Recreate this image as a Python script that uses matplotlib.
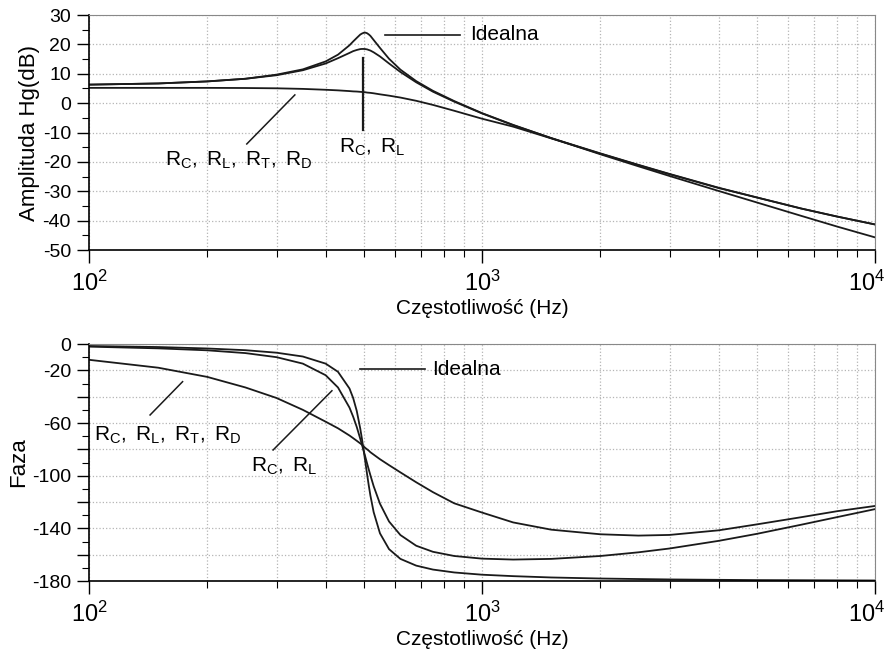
import matplotlib
matplotlib.use("Agg")
import matplotlib.pyplot as plt
import matplotlib.transforms as mtransforms
from matplotlib.ticker import FixedLocator, MultipleLocator, LogLocator, NullFormatter

plt.rcParams['font.family'] = ['Liberation Sans', 'DejaVu Sans']
plt.rcParams['mathtext.fontset'] = 'custom'
plt.rcParams['mathtext.rm'] = 'Liberation Sans'
plt.rcParams['mathtext.it'] = 'Liberation Sans'
plt.rcParams['axes.unicode_minus'] = False

# frequency points (Hz)
freq = [100, 150, 200, 250, 300, 350, 400, 430, 460, 470, 480, 490, 495, 500,
        505, 510, 515, 520, 530, 550, 580, 620, 680, 750, 850, 1000, 1200,
        1500, 2000, 2500, 3000, 4000, 5000, 6500, 8000, 10000]

# amplitude (dB)
amp_ideal = [6.3, 6.7, 7.4, 8.3, 9.7, 11.5, 14.2, 16.5, 19.7, 21.0, 22.2,
             23.35, 23.7, 23.95, 24.0, 23.8, 23.4, 22.9, 21.5, 18.8, 15.1,
             11.4, 7.5, 4.2, 0.7, -3.4, -7.4, -11.9, -17.4, -21.5, -24.8,
             -29.9, -33.8, -38.4, -42.0, -45.7]
amp_rcrl = [6.3, 6.7, 7.4, 8.3, 9.5, 11.2, 13.5, 15.3, 17.1, 17.7, 18.1,
            18.4, 18.45, 18.45, 18.4, 18.3, 18.1, 17.9, 17.3, 15.9, 13.5,
            10.6, 7.1, 3.9, 0.5, -3.5, -7.5, -11.9, -17.1, -21.0, -24.1,
            -28.8, -32.1, -35.9, -38.6, -41.3]
amp_full = [5.2, 5.2, 5.2, 5.15, 5.05, 4.85, 4.55, 4.35, 4.1, 4.0, 3.95,
            3.85, 3.8, 3.75, 3.7, 3.6, 3.55, 3.5, 3.35, 3.0, 2.55, 1.9, 0.8,
            -0.6, -2.6, -5.3, -8.0, -12.0, -17.2, -21.1, -24.2, -28.9, -32.1,
            -35.9, -38.6, -41.3]

# phase (deg)
ph_ideal = [-1.5, -2.3, -3.4, -4.7, -6.6, -9.5, -14.9, -21.1, -33.8, -41.0,
            -50.8, -64.3, -72.3, -81.0, -90.0, -99.0, -107.4, -115.1, -127.7,
            -143.8, -155.8, -163.2, -168.3, -171.3, -173.5, -175.2, -176.3,
            -177.3, -178.1, -178.5, -178.8, -179.1, -179.3, -179.4, -179.5,
            -179.6]
ph_rcrl = [-2.0, -3.3, -4.8, -6.9, -10.0, -14.9, -23.7, -33.0, -48.3, -55.2,
           -63.0, -72.0, -76.6, -81.3, -86.0, -90.7, -95.3, -99.7, -108.0,
           -121.3, -134.8, -145.1, -153.2, -157.8, -161.0, -163.0, -163.7,
           -163.2, -161.0, -158.2, -155.3, -149.5, -144.2, -137.2, -131.5,
           -125.4]
ph_full = [-12.0, -18.0, -25.0, -33.0, -41.0, -50.0, -59.0, -64.0, -69.5,
           -71.5, -73.5, -75.5, -76.5, -77.8, -79.0, -80.0, -81.0, -82.2,
           -84.0, -87.5, -92.0, -97.5, -105.0, -112.5, -121.0, -128.0,
           -135.5, -141.0, -144.5, -145.5, -145.0, -141.5, -137.0, -131.5,
           -127.0, -123.0]

x_ticks = [100, 1000, 10000]
x_labels = [r'$\mathregular{10^2}$', r'$\mathregular{10^3}$', r'$\mathregular{10^4}$']
amp_ticks = [30, 20, 10, 0, -10, -20, -30, -40, -50]
amp_labels = ['30', '20', '10', '0', '-10', '-20', '-30', '-40', '-50']
ph_ticks = [0, -20, -40, -60, -80, -100, -120, -140, -160, -180]
ph_labels = ['0', '-20', '', '-60', '', '-100', '', '-140', '', '-180']

lc = '#1a1a1a'
lw = 1.3
fs_lab = 15
fs_ann = 15

fig = plt.figure(figsize=(8.85, 6.56), dpi=100)
ax1 = fig.add_axes([0.1006, 0.6189, 0.8881, 0.3582])
ax2 = fig.add_axes([0.1006, 0.1143, 0.8881, 0.3613])


def style(ax):
    ax.set_xscale('log')
    ax.set_xlim(100, 10000)
    ax.set_xticks(x_ticks)
    ax.set_xticklabels(x_labels)
    ax.xaxis.set_minor_locator(LogLocator(base=10, subs=range(2, 10)))
    ax.xaxis.set_minor_formatter(NullFormatter())
    ax.grid(True, which='major', axis='both', color='#b5b5b5', linestyle=':', linewidth=0.9)
    ax.grid(True, which='minor', axis='x', color='#b5b5b5', linestyle=':', linewidth=0.9)
    ax.tick_params(which='major', direction='out', length=9, width=1, pad=4, labelsize=14)
    ax.tick_params(which='minor', direction='out', length=5, width=0.8)
    ax.tick_params(axis='x', which='major', labelsize=17, pad=6)
    for s in ['top', 'right']:
        ax.spines[s].set_color('#888888')
    for s in ['left', 'bottom']:
        ax.spines[s].set_linewidth(1.2)
    ax.set_xlabel('Częstotliwość (Hz)', fontsize=fs_lab, labelpad=2)
    # keep the last decade label inside the figure
    last = ax.get_xticklabels()[-1]
    last.set_horizontalalignment('right')
    last.set_transform(last.get_transform() +
                       mtransforms.ScaledTranslation(10 / 100, 0, fig.dpi_scale_trans))


# amplitude
ax1.plot(freq, amp_ideal, color=lc, lw=lw)
ax1.plot(freq, amp_rcrl, color=lc, lw=lw)
ax1.plot(freq, amp_full, color=lc, lw=lw)
style(ax1)
ax1.set_ylim(-50, 30)
ax1.yaxis.set_major_locator(FixedLocator(amp_ticks))
ax1.set_yticklabels(amp_labels)
ax1.yaxis.set_minor_locator(MultipleLocator(5))
ax1.set_ylabel('Amplituda Hg(dB)', fontsize=fs_lab + 1, labelpad=2)

ax1.plot([566, 879], [23.2, 23.2], color=lc, lw=1.2)
ax1.text(931, 23.2, 'Idealna', va='center', ha='left', fontsize=fs_ann)
ax1.plot([498, 498], [15.4, -9.1], color=lc, lw=1.6)
ax1.text(525, -15, r'$\mathregular{R_C,\ R_L}$', va='center', ha='center', fontsize=fs_ann)
ax1.plot([252, 334], [-13.9, 2.8], color=lc, lw=1.1)
ax1.text(240, -19.4, r'$\mathregular{R_C,\ R_L,\ R_T,\ R_D}$',
         va='center', ha='center', fontsize=fs_ann)

# phase
ax2.plot(freq, ph_ideal, color=lc, lw=lw)
ax2.plot(freq, ph_rcrl, color=lc, lw=lw)
ax2.plot(freq, ph_full, color=lc, lw=lw)
style(ax2)
ax2.set_ylim(-180, 0)
ax2.yaxis.set_major_locator(FixedLocator(ph_ticks))
ax2.set_yticklabels(ph_labels)
ax2.yaxis.set_minor_locator(MultipleLocator(10))
ax2.set_ylabel('Faza', fontsize=fs_lab + 1, labelpad=2)

ax2.plot([489, 716], [-19.2, -19.2], color=lc, lw=1.2)
ax2.text(745, -19.2, 'Idealna', va='center', ha='left', fontsize=fs_ann)
ax2.plot([294, 415], [-80.5, -35.5], color=lc, lw=1.1)
ax2.text(313, -93.2, r'$\mathregular{R_C,\ R_L}$', va='center', ha='center', fontsize=fs_ann)
ax2.plot([143, 173], [-53.9, -28.6], color=lc, lw=1.1)
ax2.text(158.5, -69.1, r'$\mathregular{R_C,\ R_L,\ R_T,\ R_D}$',
         va='center', ha='center', fontsize=fs_ann)

fig.savefig('out.png', dpi=100)
